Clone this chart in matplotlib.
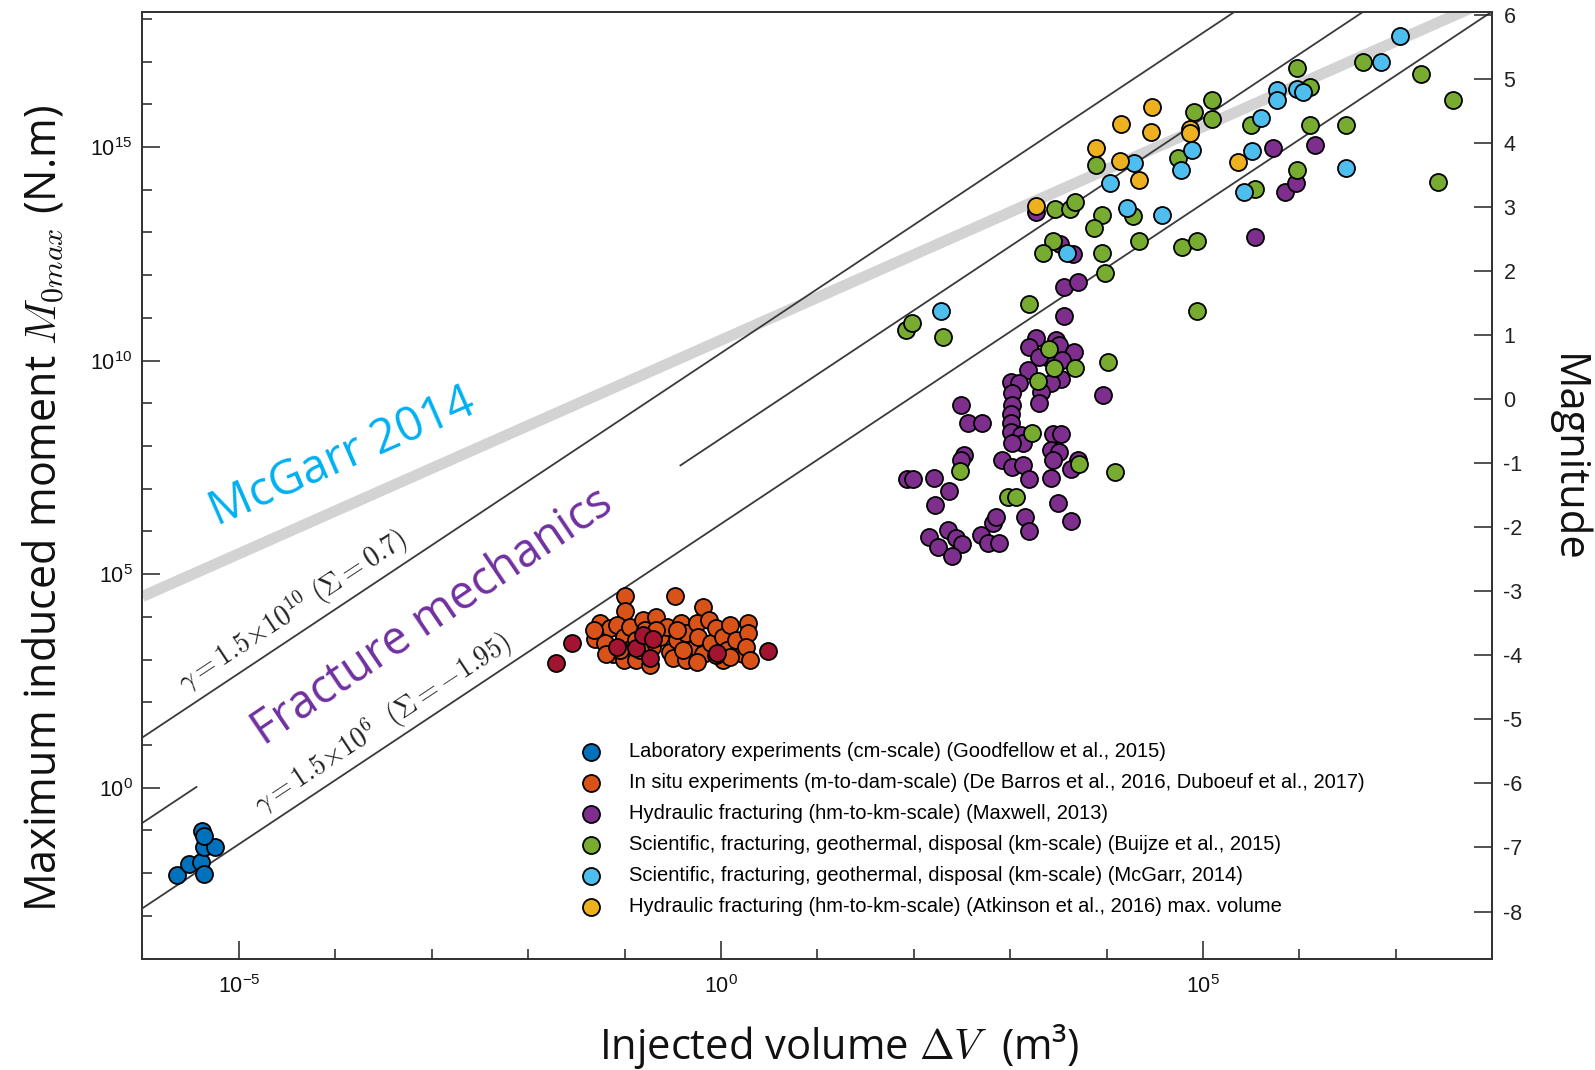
import numpy as np
import matplotlib
matplotlib.use('Agg')
import matplotlib.pyplot as plt
from matplotlib.ticker import FixedLocator, FuncFormatter, NullFormatter

plt.rcParams['font.family'] = ['Open Sans', 'DejaVu Sans']
plt.rcParams['mathtext.fontset'] = 'cm'
plt.rcParams['axes.unicode_minus'] = False

# ---------------- data (log10 of injected volume [m3] and max moment [N.m]) -------------
lab_logV = [-5.64, -5.52, -5.39, -5.36, -5.36, -5.25, -5.38, -5.36]
lab_logM = [-2.05, -1.78, -1.74, -2.03, -1.40, -1.38, -1.01, -1.14]

insitu_logV = [-0.99, -1.00, -0.48, -0.19, -1.25, -1.31, -1.15, -1.20, -1.08, -1.12,
               -1.01, -0.94, -0.96, -0.88, -0.81, -0.79, -0.67, -0.72, -0.75, -0.63,
               -0.56, -0.53, -0.46, -0.41, -0.36, -0.32, -0.25, -0.24, -0.19, -0.12,
               -0.10, -0.05, 0.02, 0.06, 0.09, 0.16, 0.23, 0.28, 0.28, 0.26,
               0.30, -1.01, -0.88, -0.50, -0.36, -0.25, -0.74, 0.02, -0.39, -1.05,
               -1.19, -1.32, 0.09, -0.46, -0.67, -0.84, -0.05]
insitu_logM = [4.49, 4.14, 4.49, 4.24, 3.85, 3.49, 3.73, 3.38, 3.81, 3.14,
               3.53, 3.77, 3.22, 3.46, 3.92, 3.69, 4.00, 3.30, 3.03, 3.53,
               3.77, 3.18, 3.46, 3.85, 3.61, 3.22, 3.85, 3.53, 3.14, 3.92,
               3.38, 3.73, 3.53, 3.22, 3.81, 3.46, 3.14, 3.85, 3.61, 3.30,
               2.99, 2.99, 2.99, 3.03, 2.99, 2.95, 2.87, 2.99, 3.22, 3.22,
               3.14, 3.69, 3.06, 3.69, 3.69, 3.22, 3.10]

insitu2_logV = [-1.71, -1.54, -1.08, -0.88, -0.81, -0.70, -0.74, -0.04, 0.49]
insitu2_logM = [2.93, 3.38, 3.30, 3.26, 3.57, 3.48, 3.03, 3.16, 3.21]

hf_logV = [3.56, 3.70, 3.56, 3.27, 3.20, 3.47, 3.51, 3.66, 3.40, 3.54,
           3.30, 3.18, 3.01, 3.09, 3.53, 3.42, 3.32, 3.30, 3.96, 3.02,
           3.02, 3.01, 3.01, 3.01, 3.11, 3.13, 3.02, 2.49, 2.56, 2.71,
           3.44, 3.53, 3.42, 3.51, 3.44, 3.70, 3.63, 2.92, 3.02, 3.13,
           2.52, 2.49,
           1.93, 1.99, 2.21, 2.37, 2.22, 2.16, 2.25, 2.36, 2.44, 2.50,
           2.40, 2.70, 2.77, 2.88, 2.82, 2.85, 3.15, 3.20, 3.50, 3.63,
           3.19, 3.42,
           3.27, 3.52, 3.65, 5.73, 6.16, 5.85, 5.96, 5.54]
hf_logM = [11.73, 11.85, 11.04, 10.52, 10.32, 10.48, 10.36, 10.21, 10.05, 10.01,
           10.09, 9.78, 9.50, 9.47, 9.58, 9.47, 9.27, 9.00, 9.19, 9.23,
           8.96, 8.76, 8.53, 8.33, 8.26, 8.06, 8.06, 8.96, 8.54, 8.54,
           8.29, 8.28, 7.90, 7.87, 7.67, 7.67, 7.47, 7.67, 7.51, 7.55,
           7.79, 7.67,
           7.22, 7.22, 7.24, 6.95, 6.62, 5.88, 5.64, 6.03, 5.84, 5.70,
           5.42, 5.91, 5.72, 5.72, 6.19, 6.34, 6.34, 6.02, 6.66, 6.24,
           7.22, 7.26,
           13.49, 12.74, 12.49, 14.98, 15.05, 13.95, 14.15, 12.90]

buijze_logV = [1.92, 1.98, 2.30, 3.40, 3.45, 3.67, 3.29, 4.01, 3.23, 3.71,
               2.48, 2.98, 3.06, 4.09, 3.20,
               3.46, 3.62, 3.67, 3.89, 3.95, 3.87, 3.44, 3.34, 3.95, 3.98,
               4.34, 4.27, 4.74, 4.91, 5.09, 5.09, 4.78, 4.94, 4.94, 5.50,
               5.54, 5.97, 6.11, 6.11, 6.48, 6.66, 7.26, 7.59, 5.97, 7.44]
buijze_logM = [10.71, 10.87, 10.56, 10.26, 9.82, 9.82, 9.52, 9.97, 8.31, 7.57,
               7.41, 6.81, 6.81, 7.40, 11.32,
               13.55, 13.55, 13.72, 14.59, 13.42, 13.11, 12.80, 12.51, 12.51, 12.06,
               12.80, 13.39, 14.75, 15.81, 16.10, 15.66, 12.67, 12.80, 11.16, 15.52,
               14.02, 16.86, 16.41, 15.52, 15.52, 17.00, 16.70, 16.10, 14.46, 14.17]

mcgarr_logV = [2.28, 4.28, 4.04, 4.21, 4.57, 4.77, 4.89, 5.51, 5.60, 5.77,
               5.77, 5.97, 6.04, 6.85, 7.04, 6.48, 5.42, 3.59]
mcgarr_logM = [11.17, 14.62, 14.15, 13.58, 13.42, 14.46, 14.93, 14.91, 15.67, 16.34,
               16.10, 16.36, 16.30, 17.00, 17.61, 14.50, 13.95, 12.53]

atk_logV = [3.27, 3.89, 4.15, 4.47, 4.46, 4.14, 4.34, 4.87, 4.87, 5.36]
atk_logM = [13.63, 14.97, 15.55, 15.94, 15.36, 14.67, 14.23, 15.42, 15.32, 14.66]

labels = [
    "Laboratory experiments (cm-scale) (Goodfellow et al., 2015)",
    "In situ experiments (m-to-dam-scale) (De Barros et al., 2016, Duboeuf et al., 2017)",
    "Hydraulic fracturing (hm-to-km-scale) (Maxwell, 2013)",
    "Scientific, fracturing, geothermal, disposal (km-scale) (Buijze et al., 2015)",
    "Scientific, fracturing, geothermal, disposal (km-scale) (McGarr, 2014)",
    "Hydraulic fracturing (hm-to-km-scale) (Atkinson et al., 2016) max. volume",
]
colors = ['#0072BD', '#D95319', '#7E2F8E', '#77AC30', '#4DBEEE', '#EDB120']
insitu2_color = '#A2142F'

gammas = [1.5e10, 1.5e8, 1.5e6]
shear_modulus = 3e10
mid_gap = (-5.44, -0.42)   # log10 V range where the middle line is interrupted

x_logrange = (-6, 8)
y_logrange = (-4, 18.155)

# ---------------- figure ----------------
fig = plt.figure(figsize=(15.95, 10.70), dpi=100)
ax = fig.add_axes([0.0893, 0.1042, 0.8463, 0.8843])
ax.set_xscale('log')
ax.set_yscale('log')
ax.set_xlim(10.0 ** x_logrange[0], 10.0 ** x_logrange[1])
ax.set_ylim(10.0 ** y_logrange[0], 10.0 ** y_logrange[1])

V = np.logspace(x_logrange[0], x_logrange[1], 300)
ax.plot(V, shear_modulus * V, color='#d3d3d3', lw=8, solid_capstyle='butt', zorder=1)

line_col = '#3a3a3a'
ax.plot(V, gammas[0] * V ** 1.5, color=line_col, lw=1.3, zorder=2)
ax.plot(V, gammas[2] * V ** 1.5, color=line_col, lw=1.3, zorder=2)
Va = np.logspace(x_logrange[0], mid_gap[0], 50)
Vb = np.logspace(mid_gap[1], x_logrange[1], 200)
ax.plot(Va, gammas[1] * Va ** 1.5, color=line_col, lw=1.3, zorder=2)
ax.plot(Vb, gammas[1] * Vb ** 1.5, color=line_col, lw=1.3, zorder=2)

def sc(lv, lm, color, label, z):
    ax.scatter(10.0 ** np.array(lv), 10.0 ** np.array(lm), s=150, c=color,
               edgecolors='black', linewidths=1.3, label=label, zorder=z)

sc(lab_logV, lab_logM, colors[0], labels[0], 3)
sc(insitu_logV, insitu_logM, colors[1], labels[1], 3)
sc(insitu2_logV, insitu2_logM, insitu2_color, '_nolegend_', 4)
sc(hf_logV, hf_logM, colors[2], labels[2], 5)
sc(buijze_logV, buijze_logM, colors[3], labels[3], 6)
sc(mcgarr_logV, mcgarr_logM, colors[4], labels[4], 7)
sc(atk_logV, atk_logM, colors[5], labels[5], 8)

# annotations
ax.text(10 ** -5.23, 10 ** 6.12, 'McGarr 2014', color='#00B0F0', fontsize=34,
        rotation=23.6, rotation_mode='anchor', ha='left', va='baseline', zorder=9)
ax.text(10 ** -4.74, 10 ** 0.97, 'Fracture mechanics', color='#7030A0', fontsize=33.5,
        rotation=34, rotation_mode='anchor', ha='left', va='baseline', zorder=9)
ax.text(10 ** -5.56, 10 ** 2.22, r'$\gamma = 1.5{\times}10^{10}\ (\Sigma = 0.7)$',
        color='#222222', fontsize=20, rotation=33.5, rotation_mode='anchor',
        ha='left', va='baseline', zorder=9)
ax.text(10 ** -4.77, 10 ** -0.62, r'$\gamma = 1.5{\times}10^{6}\ \ (\Sigma = -1.95)$',
        color='#222222', fontsize=20, rotation=33.5, rotation_mode='anchor',
        ha='left', va='baseline', zorder=9)

# ticks
fmt = FuncFormatter(lambda v, p: r'$\mathregular{10^{%d}}$' % int(round(np.log10(v))))
ax.xaxis.set_major_locator(FixedLocator([1e-5, 1e0, 1e5]))
ax.xaxis.set_minor_locator(FixedLocator([10.0 ** k for k in range(-6, 9)]))
ax.yaxis.set_major_locator(FixedLocator([1e0, 1e5, 1e10, 1e15]))
ax.yaxis.set_minor_locator(FixedLocator([10.0 ** k for k in range(-4, 19)]))
ax.xaxis.set_major_formatter(fmt)
ax.yaxis.set_major_formatter(fmt)
ax.xaxis.set_minor_formatter(NullFormatter())
ax.yaxis.set_minor_formatter(NullFormatter())
ax.tick_params(which='both', direction='in', width=1.1, colors='#222222',
               labelcolor='#111111', labelfontfamily='Liberation Sans')
ax.tick_params(which='major', length=13, labelsize=15.5)
ax.tick_params(which='minor', length=7)
ax.tick_params(axis='x', which='major', pad=12)
ax.tick_params(axis='y', which='major', pad=7)

for sp in ax.spines.values():
    sp.set_linewidth(1.3)
    sp.set_color('#333333')

ax2 = ax.twinx()
ax2.set_ylim(2 / 3 * (y_logrange[0] - 9.1), 2 / 3 * (y_logrange[1] - 9.1))
ax2.yaxis.set_major_locator(FixedLocator(list(range(-8, 7))))
ax2.tick_params(direction='in', length=13, width=1.1, labelsize=15.5, pad=8,
                labelfontfamily='Liberation Sans', colors='#222222')
for sp in ax2.spines.values():
    sp.set_linewidth(1.3)
    sp.set_color('#333333')

# axis labels
fig.text(44 / 1595, 1 - 508 / 1070, r'Maximum induced moment $M_{0max}$ (N.m)',
         rotation=90, ha='center', va='center', fontsize=31, color='#111111')
fig.text(839 / 1595, 1 - 1059 / 1070, r'Injected volume $\Delta V\ $ (m³)',
         ha='center', va='baseline', fontsize=30, color='#111111')
fig.text(1567 / 1595, 1 - 458 / 1070, 'Magnitude', rotation=-90,
         ha='center', va='center', fontsize=30, color='#111111')

leg = ax.legend(loc='upper left', bbox_to_anchor=(0.325, 0.229), frameon=False,
                prop={'family': 'Liberation Sans', 'size': 14.5},
                borderpad=0, borderaxespad=0, handlelength=1.0,
                handletextpad=1.4, labelspacing=0.6, scatterpoints=1)
leg.set_zorder(10)

fig.savefig('out.png', dpi=100)
